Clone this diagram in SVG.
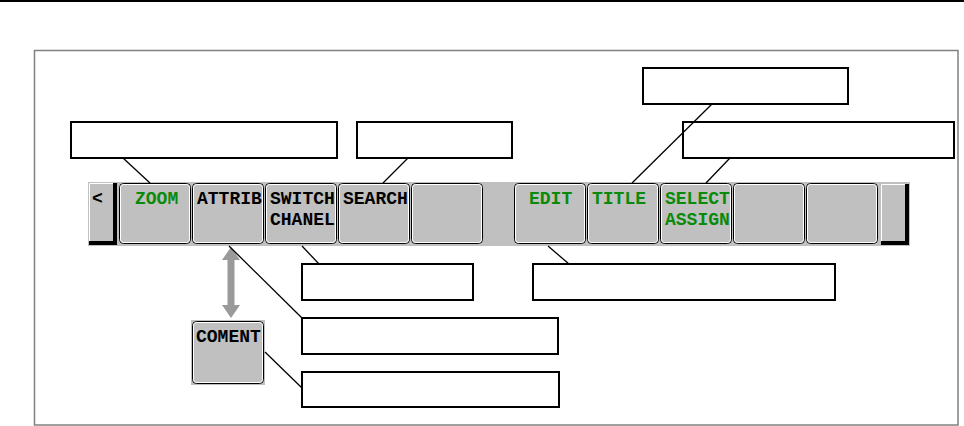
<svg xmlns="http://www.w3.org/2000/svg" width="964" height="426" viewBox="0 0 964 426">
<style>
.btn-o{fill:#c0c0c0;stroke:#000;stroke-width:1}
.btn-i{fill:#c0c0c0;stroke:#fff;stroke-width:1}
.t{font-family:"Liberation Mono","DejaVu Sans Mono",monospace;font-weight:bold;font-size:18px}
.g{fill:#0a8a0a}
.k{fill:#000}
.box{fill:#fff;stroke:#000;stroke-width:2}
.c{stroke:#000;stroke-width:1.3;fill:none}
</style>
<defs>
<g id="btn">
<rect class="btn-o" x="0.5" y="0.5" width="71" height="60" rx="4"/>
<rect class="btn-i" x="1.5" y="1.5" width="69" height="58" rx="3"/>
</g>
</defs>
<rect width="964" height="426" fill="#fff"/>
<line x1="0" y1="1" x2="964" y2="1" stroke="#000" stroke-width="2"/>
<rect x="34.5" y="50.5" width="923.5" height="374.5" fill="none" stroke="#808080" stroke-width="1.5"/>

<g id="toolbar">
<rect x="88" y="182" width="822" height="64" fill="#c0c0c0"/>
</g>

<g id="btn-left">
<rect x="89" y="183" width="28" height="62" fill="#000"/>
<rect x="89" y="183" width="24" height="58" fill="#c0c0c0"/>
<path d="M89.5 241 V183.5 H113" stroke="#fff" fill="none"/>
<text class="t k" x="92" y="204" font-weight="normal">&lt;</text>
</g>
<g id="btn-zoom"><use href="#btn" x="119" y="183"/><text class="t g" x="135" y="204">ZOOM</text></g>
<g id="btn-attrib"><use href="#btn" x="192" y="183"/><text class="t k" x="197" y="204">ATTRIB</text></g>
<g id="btn-switch"><use href="#btn" x="265" y="183"/><text class="t k" x="270" y="204">SWITCH</text><text class="t k" x="270" y="225">CHANEL</text></g>
<g id="btn-search"><use href="#btn" x="338" y="183"/><text class="t k" x="343" y="204">SEARCH</text></g>
<g id="btn-empty1"><use href="#btn" x="411" y="183"/></g>
<g id="btn-edit"><use href="#btn" x="514" y="183"/><text class="t g" x="529" y="204">EDIT</text></g>
<g id="btn-title"><use href="#btn" x="587" y="183"/><text class="t g" x="592" y="204">TITLE</text></g>
<g id="btn-select"><use href="#btn" x="660" y="183"/><text class="t g" x="665" y="204">SELECT</text><text class="t g" x="665" y="225">ASSIGN</text></g>
<g id="btn-empty2"><use href="#btn" x="733" y="183"/></g>
<g id="btn-empty3"><use href="#btn" x="806" y="183"/></g>
<g id="btn-right">
<rect x="881" y="184" width="28" height="61" fill="#000"/>
<rect x="881" y="184" width="24" height="57" fill="#c0c0c0"/>
<path d="M881.5 241 V184.5 H905" stroke="#fff" fill="none"/>
</g>

<g id="btn-coment">
<rect x="191" y="320" width="74" height="65" fill="#c0c0c0"/>
<rect class="btn-o" x="192.5" y="321.5" width="71" height="62" rx="4"/>
<rect class="btn-i" x="193.5" y="322.5" width="69" height="60" rx="3"/>
<text class="t k" x="196" y="342">COMENT</text>
</g>

<g id="arrow">
<polygon points="231,247 240,260 234.5,260 234.5,305 240,305 231,318 222,305 227.5,305 227.5,260 222,260" fill="#9a9a9a"/>
</g>

<g id="label-boxes">
<g id="box1"><rect class="box" x="71" y="122" width="266" height="36"/></g>
<g id="box2"><rect class="box" x="357" y="122" width="155" height="36"/></g>
<g id="box3"><rect class="box" x="643" y="68" width="205" height="36"/></g>
<g id="box4"><rect class="box" x="683" y="122" width="271" height="36"/></g>
<g id="box5"><rect class="box" x="302" y="264" width="171" height="36"/></g>
<g id="box6"><rect class="box" x="533" y="264" width="302" height="36"/></g>
<g id="box7"><rect class="box" x="302" y="318" width="256" height="36"/></g>
<g id="box8"><rect class="box" x="302" y="372" width="257" height="35"/></g>
</g>

<g id="connectors">
<line class="c" x1="123" y1="158" x2="150" y2="183"/>
<line class="c" x1="408" y1="158" x2="383" y2="183"/>
<line class="c" x1="712" y1="104" x2="632" y2="183"/>
<line class="c" x1="730" y1="158" x2="706" y2="183"/>
<line class="c" x1="302" y1="246" x2="319" y2="264"/>
<line class="c" x1="548" y1="246" x2="569" y2="264"/>
<line class="c" x1="229" y1="246" x2="302" y2="318"/>
<line class="c" x1="265" y1="352" x2="302" y2="388"/>
</g>
</svg>
